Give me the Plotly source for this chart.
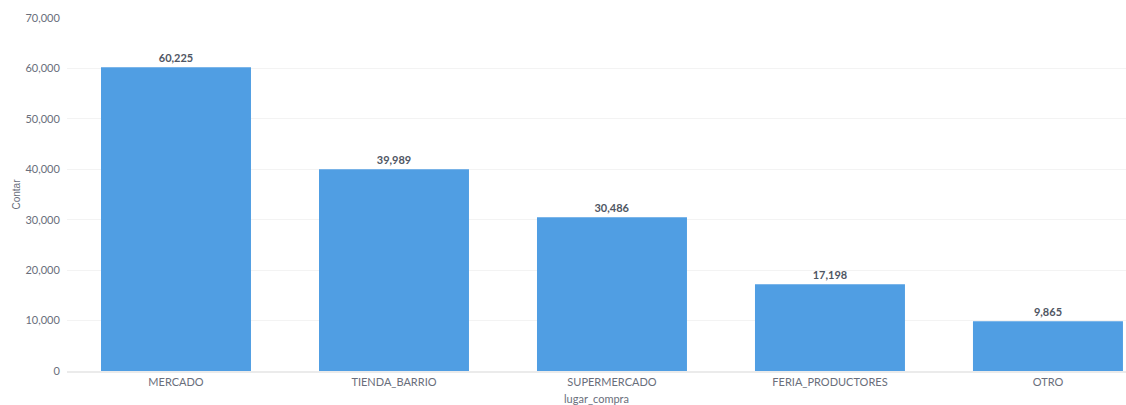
import plotly.graph_objects as go

categories = ["MERCADO", "TIENDA_BARRIO", "SUPERMERCADO", "FERIA_PRODUCTORES", "OTRO"]
counts = [60225, 39989, 30486, 17198, 9865]
y_ticks = [0, 10000, 20000, 30000, 40000, 50000, 60000, 70000]

fig = go.Figure(go.Bar(
    x=categories,
    y=counts,
    marker=dict(color="#509ee3", line=dict(width=0)),
    width=0.688,
    text=[f"{v:,}" for v in counts],
    texttemplate="<b>%{text}</b>",
    textposition="outside",
    textfont=dict(family="Lato", size=11, color="#4f5663"),
    cliponaxis=False,
))

fig.update_layout(
    width=1126, height=405,
    margin=dict(l=67, r=0, t=18, b=34),
    plot_bgcolor="white", paper_bgcolor="white",
    showlegend=False,
    font=dict(family="Lato", color="#696e7b"),
    xaxis=dict(
        range=[-0.5, 4.358],
        tickfont=dict(family="Lato", size=11, color="#696e7b"),
        title=dict(text="lugar_compra", font=dict(family="Lato", size=11, color="#696e7b"), standoff=8),
        showgrid=False,
        showline=True, linecolor="#ebebeb", linewidth=2,
        ticks="",
    ),
    yaxis=dict(
        range=[0, 70000],
        tickvals=y_ticks,
        ticktext=[f"{v:,}" for v in y_ticks],
        tickfont=dict(family="Lato", size=11, color="#696e7b"),
        title=dict(text="Contar", font=dict(family="Liberation Sans", size=10, color="#696e7b"), standoff=2),
        showgrid=True, gridcolor="#f3f3f3", gridwidth=1,
        zeroline=False,
        ticks="outside", ticklen=4, tickcolor="rgba(0,0,0,0)",
    ),
    bargap=0.3,
)

fig.write_html("out.html")
